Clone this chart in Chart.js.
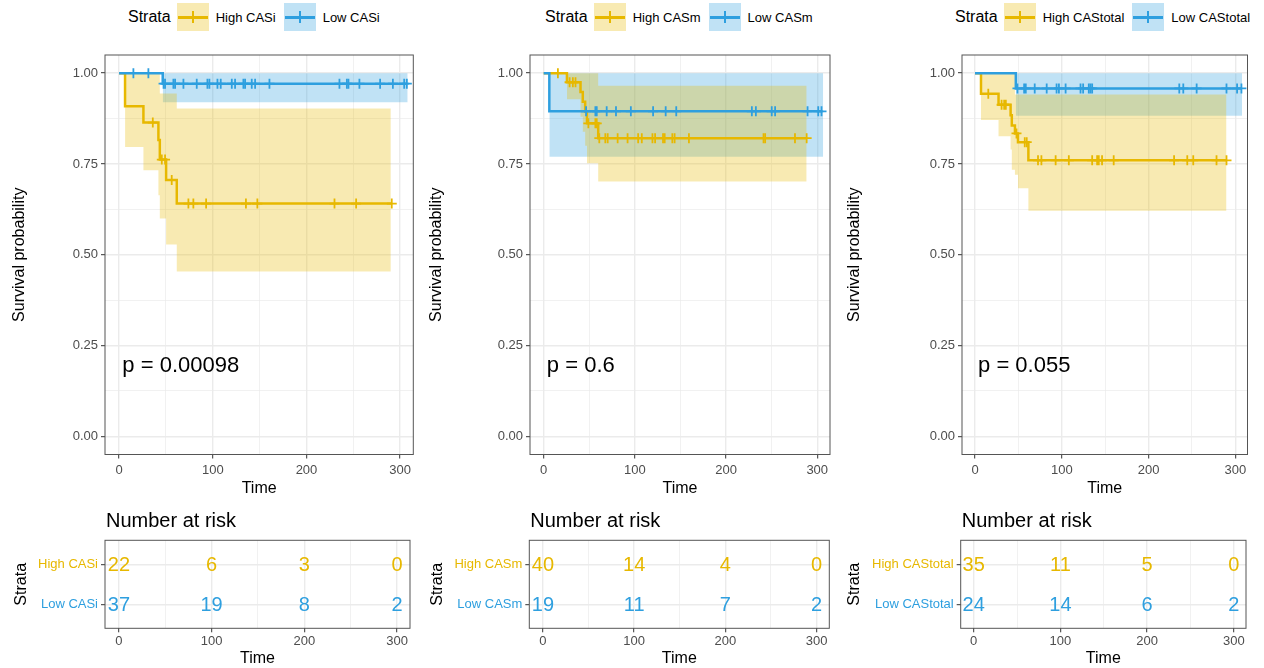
<!DOCTYPE html>
<html>
<head>
<meta charset="utf-8">
<title>Survival by CAS group</title>
<script src="https://cdn.jsdelivr.net/npm/chart.js@4.4.1/dist/chart.umd.min.js"></script>
<style>
    html, body { margin: 0; padding: 0; background: #fff; }
    body {
        position: relative; width: 1264px; height: 668px; overflow: hidden;
        font-family: "Liberation Sans", Arial, Helvetica, sans-serif; color: #000;
    }
    canvas { position: absolute; }
    .legend { position: absolute; top: 3px; height: 28px; display: flex; align-items: center; white-space: nowrap; }
    .legend .ltitle { font-size: 16px; margin-right: 6px; }
    .legend .key { position: relative; width: 32px; height: 28px; margin-right: 7px; }
    .legend .key i { position: absolute; display: block; }
    .legend .key .h { left: 1px; right: 1px; top: 13px; height: 2.5px; }
    .legend .key .v { left: 15px; width: 2px; top: 8px; height: 12px; }
    .legend .llab { font-size: 13px; margin-right: 8px; }
</style>
</head>
<body>
<script>
// ==================== DATA ====================

const timeTicks = [0, 100, 200, 300];
const timeGrid = [0, 50, 100, 150, 200, 250, 300];
const survTicks = [0, 0.25, 0.5, 0.75, 1];
const survGrid = [0, 0.125, 0.25, 0.375, 0.5, 0.625, 0.75, 0.875, 1];
const riskTimes = [0, 100, 200, 300];

// CASi
const casiStrata = ['High CASi', 'Low CASi'];
const casiHighTime = [0, 6.4, 26, 42, 43.5, 50.2, 61.6, 291];
const casiHighSurv = [1, 0.909, 0.864, 0.816, 0.762, 0.706, 0.641, 0.641];
const casiHighCiTime = [6.4, 26, 42, 43.5, 50.2, 61.6, 290];
const casiHighCiUpper = [1, 1, 1, 0.944, 0.944, 0.903, 0.903];
const casiHighCiLower = [0.797, 0.733, 0.664, 0.6, 0.528, 0.454, 0.454];
const casiHighCensor = [36, 45.6, 49.1, 56.2, 74, 79.3, 92.9, 135.4, 147.6, 229.9, 253, 291];
const casiLowTime = [0, 46.6, 307.1];
const casiLowSurv = [1, 0.971, 0.971];
const casiLowCiTime = [46.6, 308];
const casiLowCiUpper = [1, 1];
const casiLowCiLower = [0.92, 0.92];
const casiLowCensor = [15.3, 31.3, 47.5, 49.1, 58, 59.8, 68.7, 82.9, 94.3, 96.4, 105, 108.5, 120.3, 123.8,
    132.7, 134.5, 141.6, 145.2, 160.5, 235.2, 243.1, 244.8, 256.5, 278.6, 292.2, 304.3, 307.1];
const casiRiskHigh = [22, 6, 3, 0];
const casiRiskLow = [37, 19, 8, 2];
const casiPval = 'p = 0.00098';

// CASm
const casmStrata = ['High CASm', 'Low CASm'];
const casmHighTime = [0, 25.5, 40.4, 42.9, 45.5, 47.5, 59.8, 288.4];
const casmHighSurv = [1, 0.975, 0.948, 0.921, 0.894, 0.862, 0.821, 0.821];
const casmHighCiTime = [25.5, 40.4, 42.9, 45.5, 47.5, 59.8, 288.4];
const casmHighCiUpper = [1, 1, 1, 1, 1, 0.965, 0.965];
const casmHighCiLower = [0.928, 0.88, 0.839, 0.8, 0.752, 0.702, 0.702];
const casmHighCensor = [15.6, 28.4, 32, 34.9, 49, 56.7, 58.2, 61, 67.6, 70.2, 81.1, 92, 103.6, 107.6, 119.3,
    122.2, 130.9, 132.7, 141.1, 143.6, 159.3, 241.1, 242.9, 275.6, 288.4];
const casmLowTime = [0, 6.2, 304.7];
const casmLowSurv = [1, 0.895, 0.895];
const casmLowCiTime = [6.2, 306.5];
const casmLowCiUpper = [1, 1];
const casmLowCiLower = [0.77, 0.77];
const casmLowCensor = [46.5, 56.7, 58.2, 69.1, 79.3, 95.6, 120, 133.8, 145.4, 228.3, 232.7, 250.1, 253.8,
    289.4, 301.1, 304.7];
const casmRiskHigh = [40, 14, 4, 0];
const casmRiskLow = [19, 11, 7, 2];
const casmPval = 'p = 0.6';

// CAStotal
const totStrata = ['High CAStotal', 'Low CAStotal'];
const totHighTime = [0, 6.9, 27.1, 41, 42.4, 46, 49.5, 61.5, 289.8];
const totHighSurv = [1, 0.943, 0.913, 0.884, 0.856, 0.834, 0.81, 0.76, 0.76];
const totHighCiTime = [6.9, 27.1, 41, 42.4, 46, 49.5, 61.5, 289.8];
const totHighCiUpper = [1, 1, 1, 1, 0.941, 0.941, 0.941, 0.941];
const totHighCiLower = [0.871, 0.826, 0.79, 0.734, 0.72, 0.683, 0.621, 0.621];
const totHighCensor = [15.3, 30.6, 33.6, 35.5, 47.8, 57.3, 59.6, 72.6, 76.5, 92.9, 108.1, 135, 140.7, 142.6,
    146.4, 159.8, 229.4, 244.6, 251.5, 278.3, 289.8];
const totLowTime = [0, 47, 307];
const totLowSurv = [1, 0.958, 0.958];
const totLowCiTime = [47, 307.7];
const totLowCiUpper = [1, 1];
const totLowCiLower = [0.883, 0.883];
const totLowCensor = [48.9, 56.6, 58.5, 68.8, 82.6, 94, 96.7, 104.4, 121.6, 124.6, 131.1, 133, 135, 235.4,
    240, 255.4, 289.8, 302, 307];
const totRiskHigh = [35, 11, 5, 0];
const totRiskLow = [24, 14, 6, 2];
const totPval = 'p = 0.055';

// ==================== STYLE ====================

const FONT = '"Liberation Sans", Arial, Helvetica, sans-serif';
const HIGH_COLOR = '#E7B800';
const LOW_COLOR = '#2E9FDF';
const HIGH_FILL = 'rgba(231, 184, 0, 0.3)';
const LOW_FILL = 'rgba(46, 159, 223, 0.3)';
const GRID_COLOR = '#EBEBEB';
const TICK_TEXT = '#4D4D4D';
const TICK_MARK = '#333333';
const FRAME_COLOR = '#555555';
const X_RANGE = [-15, 314];
const Y_RANGE = [-0.05, 1.05];
const PVAL_AT = { t: 3.5, s: 0.2 };

Chart.defaults.font.family = FONT;
Chart.defaults.color = TICK_TEXT;

// ==================== LAYOUT ====================

const panels = [
    {
        left: 0, width: 420, legendLeft: 128, km: [105, 413.3], table: [105, 410], yTitleX: 20, tableTitleX: 22,
        strata: casiStrata, pval: casiPval,
        high: { time: casiHighTime, surv: casiHighSurv, ciTime: casiHighCiTime, ciUpper: casiHighCiUpper, ciLower: casiHighCiLower, censor: casiHighCensor, risk: casiRiskHigh },
        low: { time: casiLowTime, surv: casiLowSurv, ciTime: casiLowCiTime, ciUpper: casiLowCiUpper, ciLower: casiLowCiLower, censor: casiLowCensor, risk: casiRiskLow }
    },
    {
        left: 420, width: 420, legendLeft: 545, km: [530, 830], table: [529.3, 829.3], yTitleX: 437, tableTitleX: 438,
        strata: casmStrata, pval: casmPval,
        high: { time: casmHighTime, surv: casmHighSurv, ciTime: casmHighCiTime, ciUpper: casmHighCiUpper, ciLower: casmHighCiLower, censor: casmHighCensor, risk: casmRiskHigh },
        low: { time: casmLowTime, surv: casmLowSurv, ciTime: casmLowCiTime, ciUpper: casmLowCiUpper, ciLower: casmLowCiLower, censor: casmLowCensor, risk: casmRiskLow }
    },
    {
        left: 840, width: 424, legendLeft: 955, km: [962, 1247.5], table: [960.7, 1246], yTitleX: 855, tableTitleX: 855,
        strata: totStrata, pval: totPval,
        high: { time: totHighTime, surv: totHighSurv, ciTime: totHighCiTime, ciUpper: totHighCiUpper, ciLower: totHighCiLower, censor: totHighCensor, risk: totRiskHigh },
        low: { time: totLowTime, surv: totLowSurv, ciTime: totLowCiTime, ciUpper: totLowCiUpper, ciLower: totLowCiLower, censor: totLowCensor, risk: totRiskLow }
    }
];

const KM_TOP = 40, KM_HEIGHT = 460, KM_PLOT_TOP = 55, KM_PLOT_BOTTOM = 454.5;
const TAB_TOP = 500, TAB_HEIGHT = 168, TAB_PLOT_TOP = 540.3, TAB_PLOT_BOTTOM = 628.3;

// ==================== HELPERS ====================

function toPoints(xs, ys) {
    return xs.map((x, i) => ({ x, y: ys[i] }));
}

// value of the step curve at time t
function survAt(times, surv, t) {
    let s = surv[0];
    times.forEach((tt, i) => { if (tt <= t) s = surv[i]; });
    return s;
}

function addCanvas(left, top, width, height) {
    const c = document.createElement('canvas');
    c.width = width;
    c.height = height;
    c.style.left = left + 'px';
    c.style.top = top + 'px';
    c.style.width = width + 'px';
    c.style.height = height + 'px';
    document.body.appendChild(c);
    return c;
}

function buildLegend(left, labels) {
    const colors = [HIGH_COLOR, LOW_COLOR];
    const fills = [HIGH_FILL, LOW_FILL];
    const box = document.createElement('div');
    box.className = 'legend';
    box.style.left = left + 'px';
    box.innerHTML = '<span class="ltitle">Strata</span>' + labels.map((lab, i) =>
        `<span class="key" style="background:${fills[i]}"><i class="h" style="background:${colors[i]}"></i>` +
        `<i class="v" style="background:${colors[i]}"></i></span><span class="llab">${lab}</span>`).join('');
    document.body.appendChild(box);
}

const isMajorTime = c => !!c.tick && timeTicks.includes(c.tick.value);
const isMajorSurv = c => !!c.tick && survTicks.includes(c.tick.value);

function timeScale(axisHeight, labelPad, titleBottom) {
    return {
        type: 'linear', min: X_RANGE[0], max: X_RANGE[1],
        afterBuildTicks: s => { s.ticks = timeGrid.map(v => ({ value: v })); },
        afterFit: s => { s.height = axisHeight; },
        ticks: {
            autoSkip: false, maxRotation: 0, padding: labelPad, color: TICK_TEXT, font: { size: 13 },
            callback: v => timeTicks.includes(v) ? String(v) : ''
        },
        grid: {
            color: GRID_COLOR, lineWidth: c => isMajorTime(c) ? 1.4 : 0.7,
            drawTicks: true, tickLength: 4, tickWidth: 1,
            tickColor: c => isMajorTime(c) ? TICK_MARK : 'rgba(0,0,0,0)'
        },
        border: { display: false },
        title: { display: true, text: 'Time', color: '#000', font: { size: 16 }, padding: { top: 0, bottom: titleBottom } }
    };
}

const framePlugin = {
    id: 'frame',
    afterDatasetsDraw(chart) {
        const { ctx, chartArea: a } = chart;
        ctx.save();
        ctx.strokeStyle = FRAME_COLOR;
        ctx.lineWidth = 1;
        ctx.strokeRect(a.left, a.top, a.right - a.left, a.bottom - a.top);
        ctx.restore();
    }
};

// ==================== KM PLOT ====================

function bandSet(times, values, color, fill) {
    return { data: toPoints(times, values), stepped: true, borderWidth: 0, pointRadius: 0,
             backgroundColor: color, fill, order: 10 };
}

function curveSet(g, color, order) {
    return { data: toPoints(g.time, g.surv), stepped: true, borderColor: color, borderWidth: 2.5,
             pointRadius: 0, fill: false, order };
}

function censorSet(g, color, order) {
    return { data: g.censor.map(t => ({ x: t, y: survAt(g.time, g.surv, t) })), showLine: false,
             pointStyle: 'cross', pointRadius: 5, pointBorderWidth: 1.8, pointBorderColor: color,
             pointBackgroundColor: color, fill: false, order };
}

function makeKm(p) {
    const canvas = addCanvas(p.left, KM_TOP, p.width, KM_HEIGHT);
    const axisHeight = KM_TOP + KM_HEIGHT - KM_PLOT_BOTTOM;

    const pvalPlugin = {
        id: 'pval',
        afterDatasetsDraw(chart) {
            const { ctx, scales: { x, y } } = chart;
            ctx.save();
            ctx.font = `22px ${FONT}`;
            ctx.fillStyle = '#000';
            ctx.textAlign = 'left';
            ctx.textBaseline = 'middle';
            ctx.fillText(p.pval, x.getPixelForValue(PVAL_AT.t), y.getPixelForValue(PVAL_AT.s) + 2);
            ctx.restore();
        }
    };

    new Chart(canvas, {
        type: 'line',
        data: {
            datasets: [
                bandSet(p.high.ciTime, p.high.ciUpper, HIGH_FILL, '+1'),
                bandSet(p.high.ciTime, p.high.ciLower, HIGH_FILL, false),
                bandSet(p.low.ciTime, p.low.ciUpper, LOW_FILL, '+1'),
                bandSet(p.low.ciTime, p.low.ciLower, LOW_FILL, false),
                curveSet(p.high, HIGH_COLOR, 3),
                censorSet(p.high, HIGH_COLOR, 2),
                curveSet(p.low, LOW_COLOR, 1),
                censorSet(p.low, LOW_COLOR, 0)
            ]
        },
        options: {
            responsive: false, animation: false, devicePixelRatio: 1, events: [],
            layout: {
                autoPadding: false,
                padding: { left: 0, top: KM_PLOT_TOP - KM_TOP, right: p.left + p.width - p.km[1], bottom: 0 }
            },
            plugins: {
                legend: { display: false },
                tooltip: { enabled: false },
                filler: { propagate: false, drawTime: 'beforeDatasetsDraw' }
            },
            scales: {
                x: timeScale(axisHeight, 4, 1.4),
                y: {
                    type: 'linear', min: Y_RANGE[0], max: Y_RANGE[1],
                    afterBuildTicks: s => { s.ticks = survGrid.map(v => ({ value: v })); },
                    afterFit: s => { s.width = p.km[0] - p.left; },
                    ticks: {
                        autoSkip: false, padding: 3, color: TICK_TEXT, font: { size: 13 },
                        callback: v => survTicks.includes(v) ? v.toFixed(2) : ''
                    },
                    grid: {
                        color: GRID_COLOR, lineWidth: c => isMajorSurv(c) ? 1.4 : 0.7,
                        drawTicks: true, tickLength: 4, tickWidth: 1,
                        tickColor: c => isMajorSurv(c) ? TICK_MARK : 'rgba(0,0,0,0)'
                    },
                    border: { display: false },
                    title: {
                        display: true, text: 'Survival probability', color: '#000', font: { size: 16 },
                        padding: { top: p.yTitleX - p.left - 9.6, bottom: 0 }
                    }
                }
            }
        },
        plugins: [framePlugin, pvalPlugin]
    });
}

// ==================== RISK TABLE ====================

function makeTable(p) {
    const canvas = addCanvas(p.left, TAB_TOP, p.width, TAB_HEIGHT);
    const axisHeight = TAB_TOP + TAB_HEIGHT - TAB_PLOT_BOTTOM;
    const rowColors = [HIGH_COLOR, LOW_COLOR];

    const riskPlugin = {
        id: 'riskText',
        afterDatasetsDraw(chart) {
            const { ctx, chartArea } = chart;
            ctx.save();
            ctx.font = `20px ${FONT}`;
            ctx.textAlign = 'center';
            ctx.textBaseline = 'middle';
            chart.data.datasets.forEach((ds, i) => {
                ctx.fillStyle = rowColors[i];
                chart.getDatasetMeta(i).data.forEach((pt, j) => {
                    ctx.fillText(String(ds.counts[j]), pt.x, pt.y + 1);
                });
            });
            ctx.fillStyle = '#000';
            ctx.textAlign = 'left';
            ctx.fillText('Number at risk', chartArea.left + 1, chartArea.top - 19);
            ctx.restore();
        }
    };

    new Chart(canvas, {
        type: 'line',
        data: {
            datasets: [
                { data: riskTimes.map(t => ({ x: t, y: 1 })), counts: p.high.risk, showLine: false, pointRadius: 0 },
                { data: riskTimes.map(t => ({ x: t, y: 2 })), counts: p.low.risk, showLine: false, pointRadius: 0 }
            ]
        },
        options: {
            responsive: false, animation: false, devicePixelRatio: 1, events: [],
            layout: {
                autoPadding: false,
                padding: { left: 0, top: TAB_PLOT_TOP - TAB_TOP, right: p.left + p.width - p.table[1], bottom: 0 }
            },
            plugins: { legend: { display: false }, tooltip: { enabled: false } },
            scales: {
                x: timeScale(axisHeight, 1.5, 0),
                y: {
                    type: 'linear', min: 0.4, max: 2.6, reverse: true,
                    afterBuildTicks: s => { s.ticks = [1, 2].map(v => ({ value: v })); },
                    afterFit: s => { s.width = p.table[0] - p.left; },
                    ticks: {
                        autoSkip: false, padding: 3, font: { size: 13 },
                        color: c => rowColors[c.index],
                        callback: v => p.strata[v - 1]
                    },
                    grid: { color: GRID_COLOR, lineWidth: 1.4, drawTicks: true, tickLength: 4, tickWidth: 1, tickColor: TICK_MARK },
                    border: { display: false },
                    title: {
                        display: true, text: 'Strata', color: '#000', font: { size: 16 },
                        padding: { top: p.tableTitleX - p.left - 9.6, bottom: 0 }
                    }
                }
            }
        },
        plugins: [framePlugin, riskPlugin]
    });
}

panels.forEach(p => {
    buildLegend(p.legendLeft, p.strata);
    makeKm(p);
    makeTable(p);
});
</script>
</body>
</html>
